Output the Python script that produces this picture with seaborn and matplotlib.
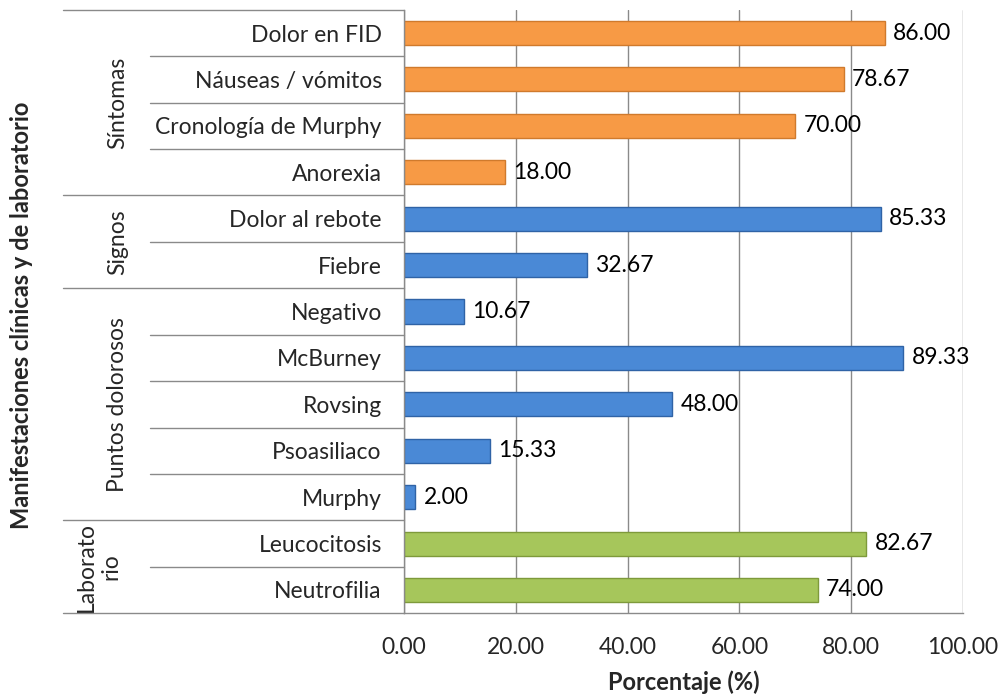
import matplotlib
matplotlib.use("Agg")
import matplotlib.pyplot as plt
import matplotlib.transforms as mtransforms
import pandas as pd
import seaborn as sns

# datos
labels = ["Dolor en FID", "Náuseas / vómitos", "Cronología de Murphy", "Anorexia",
          "Dolor al rebote", "Fiebre",
          "Negativo", "McBurney", "Rovsing", "Psoasiliaco", "Murphy",
          "Leucocitosis", "Neutrofilia"]
values = [86.00, 78.67, 70.00, 18.00,
          85.33, 32.67,
          10.67, 89.33, 48.00, 15.33, 2.00,
          82.67, 74.00]
groups = ["Síntomas"] * 4 + ["Signos"] * 2 + ["Puntos dolorosos"] * 5 + ["Laboratorio"] * 2
group_titles = ["Síntomas", "Signos", "Puntos dolorosos", "Laborato\nrio"]
group_sizes = [4, 2, 5, 2]
x_ticks = [0, 20, 40, 60, 80, 100]

palette = {"Síntomas": "#F79A45", "Signos": "#4A89D6",
           "Puntos dolorosos": "#4A89D6", "Laboratorio": "#A6C65B"}
edges = {"Síntomas": "#D07A2C", "Signos": "#2F63A6",
         "Puntos dolorosos": "#2F63A6", "Laboratorio": "#7E9A3B"}

df = pd.DataFrame({"label": labels, "value": values, "group": groups})

sns.set_style("white")
plt.rcParams["font.family"] = ["Lato", "DejaVu Sans"]
fs = 16.5

fig = plt.figure(figsize=(10, 7), dpi=100)
ax = fig.add_axes([0.404, 0.124, 0.559, 0.862])

sns.barplot(data=df, x="value", y="label", hue="group", palette=palette,
            dodge=False, legend=False, width=0.52, ax=ax, saturation=1)

# bordes segun grupo
for container, g in zip(ax.containers, ["Síntomas", "Signos", "Puntos dolorosos", "Laboratorio"]):
    for bar in container:
        bar.set_edgecolor(edges[g])
        bar.set_linewidth(1)

for i, v in enumerate(values):
    ax.annotate(f"{v:.2f}", (v, i), xytext=(6, 0), textcoords="offset points",
                va="center", ha="left", fontsize=fs, color="black")

ax.set_xlim(0, 100)
ax.set_ylim(len(labels) - 0.5, -0.5)
ax.set_xticks(x_ticks)
ax.set_xticklabels([f"{t:.2f}" for t in x_ticks], fontsize=fs)
ax.xaxis.grid(True, color="#8a8a8a", linewidth=1)
ax.set_axisbelow(True)
ax.tick_params(axis="x", length=6, color="#8a8a8a", direction="out", pad=11)
ax.tick_params(axis="y", length=0, pad=16, labelsize=fs)

for side in ["top", "right"]:
    ax.spines[side].set_visible(False)
for side in ["left", "bottom"]:
    ax.spines[side].set_color("#8a8a8a")
    ax.spines[side].set_linewidth(1)

ax.set_xlabel("Porcentaje (%)", fontsize=17, fontweight="bold", labelpad=9)
ax.set_ylabel("")
fig.text(0.022, 0.549, "Manifestaciones clínicas y de laboratorio", rotation=90,
         ha="center", va="center", fontsize=17, fontweight="bold")

# etiquetas de grupo con lineas separadoras
trans = mtransforms.blended_transform_factory(ax.transAxes, ax.transData)
start = 0
for title, size in zip(group_titles, group_sizes):
    top = start - 0.5
    ax.plot([-0.61, 0], [top, top], color="#8a8a8a", lw=1, transform=trans, clip_on=False)
    for k in range(1, size):
        y = start + k - 0.5
        ax.plot([-0.454, 0], [y, y], color="#8a8a8a", lw=1, transform=trans, clip_on=False)
    xpos = -0.547 if "\n" in title else -0.513
    ax.text(xpos, start + (size - 1) / 2, title, rotation=90, ha="center", va="center",
            multialignment="center", fontsize=fs, transform=trans, linespacing=1.2)
    start += size
ax.plot([-0.61, 0], [start - 0.5, start - 0.5], color="#8a8a8a", lw=1,
        transform=trans, clip_on=False)

fig.savefig("out.png", dpi=100)
